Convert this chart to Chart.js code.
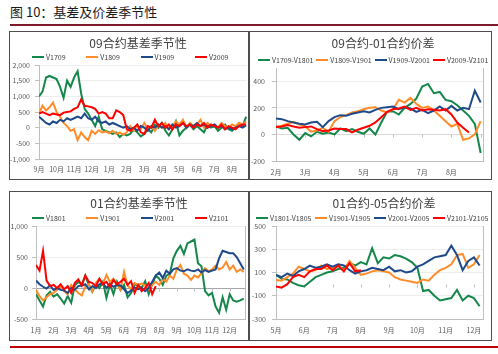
<!DOCTYPE html>
<html>
<head>
<meta charset="utf-8">
<script src="https://cdn.jsdelivr.net/npm/chart.js@4.4.1/dist/chart.umd.min.js"></script>
<style>
  body { margin: 0; width: 498px; height: 354px; position: relative; overflow: hidden; background: #fff; font-family: "Noto Sans CJK SC", sans-serif; }
  #head { position: absolute; left: 10px; top: 3px; font-size: 13px; line-height: 18px; color: #1a1a1a; white-space: nowrap; }
  #rule-top { position: absolute; left: 10px; right: 0; top: 24px; height: 2px; background: #7d1a2c; }
  #rule-bot { position: absolute; left: 10px; right: 0; top: 346px; height: 2px; background: #c00000; }
  .panel { position: absolute; box-sizing: border-box; border: 1px solid #4d4d4d; }
  canvas { position: absolute; }
  .title { position: absolute; width: 200px; text-align: center; font-size: 12px; line-height: 16px; color: #404040; white-space: nowrap; }
  .legend { position: absolute; display: flex; height: 10px; align-items: center; font-size: 7px; color: #404040; white-space: nowrap; }
  .legend .item { display: flex; align-items: center; }
  .legend .swatch { width: 12px; height: 2px; margin-right: 2px; }
</style>
</head>
<body>
<div id="head">图 10：基差及价差季节性</div>
<div id="rule-top"></div>

<div class="panel" style="left:9px;top:31px;width:240px;height:149px"></div>
<div class="panel" style="left:249px;top:31px;width:243px;height:149px"></div>
<div class="panel" style="left:9px;top:191px;width:240px;height:150px"></div>
<div class="panel" style="left:249px;top:191px;width:243px;height:150px"></div>

<canvas id="c1" width="238" height="147" style="left:10px;top:32px"></canvas>
<canvas id="c2" width="245" height="151" style="left:250px;top:32px"></canvas>
<canvas id="c3" width="238" height="149" style="left:10px;top:192px"></canvas>
<canvas id="c4" width="245" height="149" style="left:250px;top:192px"></canvas>

<div class="title" style="left:38px;top:35px">09合约基差季节性</div>
<div class="title" style="left:283px;top:35px">09合约-01合约价差</div>
<div class="title" style="left:39px;top:195px">01合约基差季节性</div>
<div class="title" style="left:284px;top:195px">01合约-05合约价差</div>

<div class="legend" id="lg1" style="left:32px;top:52px"></div>
<div class="legend" id="lg2" style="left:258px;top:55px"></div>
<div class="legend" id="lg3" style="left:32px;top:213px"></div>
<div class="legend" id="lg4" style="left:256px;top:213px"></div>

<div id="rule-bot"></div>

<script>
const FONT = '"Noto Sans CJK SC", sans-serif';
const GREEN = '#15874a', ORANGE = '#ff8c28', BLUE = '#1f4a8a', RED = '#ff0000';

// 09合约基差季节性 (5 points per month, starting 9月)
const months09 = ['9月', '10月', '11月', '12月', '1月', '2月', '3月', '4月', '5月', '6月', '7月', '8月'];
const v1709 = [
  1000, 1150, 1600, 1650, 1600,  1550, 1300, 950, 1500, 1300,
  1600, 1800, 1100, 600, 450,    250, 50, 350, -50, -100,
  -150, -200, -150, -300, -200,  -250, -200, -50, -150, -280,
  -200, -50, -150, 100, 0,       150, -100, -250, -50, 200,
  -250, -100, 0, 100, -50,       50, -50, -150, 100, 0,
  50, -100, 0, 100, -50,         -100, 0, 150, 50, 350
];
const v1809 = [
  450, 700, 550, 650, 800,       500, 350, 150, 50, -100,
  -50, -400, -150, -300, -400,   -100, -200, -80, -150, -120,
  -180, -100, -200, -150, -230,  -150, 50, -100, 100, -50,
  150, -50, 50, -100, 100,       0, 150, -50, 50, 200,
  100, 250, 0, 150, 50,          100, 250, 0, 150, 50,
  100, 0, 150, 50, 0,            100, 50, 150, 100, 200
];
const v1909 = [
  350, 250, 150, 100, 200,       150, 250, 200, 300, 250,
  300, 350, 300, 450, 300,       250, 350, 200, 150, 200,
  100, 150, 100, 50, 0,          50, -50, 0, -100, 50,
  0, -100, 50, 0, 100,           0, 50, -50, 100, 0,
  50, 150, 0, 100, 50,           150, 50, 100, 0, 50,
  100, 0, 50, -50, 0,            -50, 0, 50, 0, 80
];
const v2009 = [
  450, 500, 450, 400, 450,       420, 400, 480, 500, 520,
  600, 650, 900, 700, 680,       650, 600, 450, 500, 450,
  300, 300, 550, 500, 400,       -50, -100, 0, 100, -150,
  -200, 50, 0, 250, 50,          150, 0, 100, -50, 100,
  50, 150, 50, 100, 0,           100, 50, 150, 0, 100,
  50, 0, 100, -50, 50,           0, -50, 50, 100, 100
];

// 09合约-01合约价差 (starting 2月)
const months0901 = ['2月', '3月', '4月', '5月', '6月', '7月', '8月'];
const s1709_1801 = [
  60, 45, 50, 0, -40,  10, -15, 20, 5, 15,  0, 45, 25, 40, 20,  5, 45, 0, 90, 170,
  175, 150, 200, 230, 270,  360, 380, 310, 320, 260,  250, 220, 180, 140, 80,  -140
];
const s1809_1901 = [
  55, 65, 80, 95, 75,  60, 20, 30, 50, 20,  100, 130, 145, 165, 175,  190, 200, 205, 180, 165,
  190, 260, 240, 275, 230,  200, 210, 180, 140, 100,  60, 80, -40, -30, 0,  100
];
const s1909_2001 = [
  120, 115, 100, 90, 80,  75, 90, 95, 55, 100,  130, 145, 140, 155, 165,  175, 165, 185, 200, 205,
  210, 190, 205, 195, 170,  185, 160, 180, 210, 180,  215, 180, 200, 190, 330,  240
];
const s2009_2101 = [
  55, 60, 70, 60, 50,  55, 60, 40, 25, 30,  45, 40, 40, 15, 35,  50, 65, 90, 130, 170,
  190, 195, 210, 185, 200,  180, 190, 185, 180, 190,  150, 90, 50, 15
];

// 01合约基差季节性 (starting 1月)
const months01 = ['1月', '2月', '3月', '4月', '5月', '6月', '7月', '8月', '9月', '10月', '11月', '12月'];
const v1801 = [
  -100, -200, -300, -120, -60,   -140, -100, -170, -250, -130,
  -240, 40, 100, 60, 200,        50, -60, 60, 0, 100,
  -160, 60, -100, 100, -30,      50, -150, -80, 60, 40,
  0, 110, -100, 60, 200,         150, 50, 200, 230, 480,
  600, 680, 550, 720, 750,       780, 400, 350, -50, -120,
  -80, -300, -400, -150, -350,   -100, -200, -220, -200, -170
];
const v1901 = [
  -30, -130, -200, -150, -100,   -80, -30, 20, -50, -100,
  50, -20, -80, -120, 20,        60, -50, 80, 150, 60,
  210, 100, 150, 50, -30,        260, 40, -20, 80, 50,
  70, 40, -20, 50, 100,          50, 150, 100, 200, 150,
  300, 370, 230, 200, 130,       200, 170, 240, 320, 270,
  300, 360, 300, 330, 420,       300, 360, 260, 300, 260
];
const v2001 = [
  120, 60, 20, -10, 40,          -30, 0, -30, -40, -80,
  0, -30, 30, 40, 60,            -20, 30, 0, 60, 80,
  0, 60, 20, 50, 40,             -20, -80, -40, 10, -20,
  0, -50, 0, 100, 200,           250, 160, 280, 230, 300,
  320, 280, 270, 300, 280,       270, 300, 250, 290, 260,
  280, 300, 480, 600, 580,       560, 560, 500, 400, 300
];
const v2101 = [
  370, 280, 600, 120, 30,        50, 0, 60, -20, 30,
  -80, 80, 140, 40, 200,         100, 80, 30, 150, 60,
  100, 20, 130, 60, 100,         150, 50, 110, -80, 50,
  -50, 0, 80, -100, 30
];

// 01合约-05合约价差 (starting 5月)
const months0105 = ['5月', '6月', '7月', '8月', '9月', '10月', '11月', '12月'];
const s1801_1805 = [
  80, 45, 40, 10, -10,  -20, 20, 60, 80, 100,  110, 130, 140, 180, 160,  190, 170, 310, 180, 230,
  220, 250, 240, 220, 190,  140, -60, -50, -100, -140,  -130, -120, -50, -140, -100,  -120, -190
];
const s1901_1905 = [
  35, 30, 60, 90, 150,  130, 110, 120, 160, 130,  140, 160, 120, 200, 140,  80, 90, 110, 120, 110,
  100, 60, 40, 30, 20,  10, 40, 30, 80, 120,  140, 170, 250, 260, 140,  170, 250
];
const s2001_2005 = [
  80, 60, 90, 70, 110,  130, 160, 140, 150, 170,  150, 170, 160, 120, 90,  110, 120, 140, 130, 120,
  150, 110, 120, 100, 110,  150, 170, 200, 230, 240,  250, 330, 250, 120, 200,  230, 160
];
const s2101_2105 = [
  -20, -30, 0, 60, 80,  60, 110, 130, 130, 160,  120, 160, 110, 180, 110,  120
];

const STEP = 0.2; // one value every fifth of a month

// right-hand plot border and small tick marks on the zero line
const frame = {
  id: 'frame',
  beforeDatasetsDraw(chart, args, opts) {
    const {ctx, chartArea: a, scales: {x, y}} = chart;
    ctx.save();
    ctx.strokeStyle = '#bfbfbf';
    ctx.lineWidth = 1;
    ctx.beginPath();
    if (opts.right) {
      ctx.moveTo(a.right + 0.5, a.top);
      ctx.lineTo(a.right + 0.5, a.bottom);
    }
    if (opts.zeroTicks) {
      const y0 = Math.round(y.getPixelForValue(0)) + 0.5;
      x.ticks.forEach(t => {
        const px = Math.round(x.getPixelForValue(t.value)) + 0.5;
        ctx.moveTo(px, y0);
        ctx.lineTo(px, y0 + 3);
      });
    }
    ctx.stroke();
    ctx.restore();
  }
};

function buildLegend(id, series, itemWidth) {
  const box = document.getElementById(id);
  series.forEach(s => {
    const item = document.createElement('div');
    item.className = 'item';
    item.style.width = itemWidth + 'px';
    item.innerHTML = `<span class="swatch" style="background:${s.color}"></span><span>${s.name}</span>`;
    box.appendChild(item);
  });
}

function seasonChart(id, cfg) {
  const n = cfg.series.length;
  return new Chart(document.getElementById(id), {
    type: 'line',
    data: {
      datasets: cfg.series.map((s, i) => ({
        label: s.name,
        data: s.values.map((v, j) => ({x: j * STEP, y: v})),
        borderColor: s.color,
        backgroundColor: s.color,
        borderWidth: 2,
        pointRadius: 0,
        tension: 0,
        order: n - i
      }))
    },
    options: {
      responsive: false,
      animation: false,
      events: [],
      layout: {padding: cfg.padding},
      plugins: {
        legend: {display: false},
        tooltip: {enabled: false},
        title: {display: false},
        frame: cfg.frame
      },
      scales: {
        x: {
          type: 'linear',
          min: 0,
          max: cfg.xMax,
          grid: {display: false, drawTicks: false},
          border: {color: '#bfbfbf'},
          ticks: {
            stepSize: 1,
            includeBounds: false,
            autoSkip: false,
            maxRotation: 0,
            padding: cfg.xPad,
            color: '#595959',
            font: {family: FONT, size: 7},
            callback: v => cfg.months[v] ?? ''
          }
        },
        y: {
          min: cfg.yMin,
          max: cfg.yMax,
          afterFit: s => { s.width = cfg.yWidth; },
          grid: {
            color: c => (c.tick && c.tick.value === 0 ? cfg.zeroColor : '#ededed'),
            tickLength: 4,
            tickColor: '#bfbfbf'
          },
          border: {color: '#bfbfbf'},
          ticks: {
            stepSize: cfg.yStep,
            includeBounds: false,
            padding: cfg.yPad,
            color: '#595959',
            font: {family: FONT, size: 7},
            callback: v => v.toLocaleString('en-US')
          }
        }
      }
    },
    plugins: [frame]
  });
}

const series1 = [
  {name: 'V1709', values: v1709, color: GREEN},
  {name: 'V1809', values: v1809, color: ORANGE},
  {name: 'V1909', values: v1909, color: BLUE},
  {name: 'V2009', values: v2009, color: RED}
];
const series2 = [
  {name: 'V1709-V1801', values: s1709_1801, color: GREEN},
  {name: 'V1809-V1901', values: s1809_1901, color: ORANGE},
  {name: 'V1909-V2001', values: s1909_2001, color: BLUE},
  {name: 'V2009-V2101', values: s2009_2101, color: RED}
];
const series3 = [
  {name: 'V1801', values: v1801, color: GREEN},
  {name: 'V1901', values: v1901, color: ORANGE},
  {name: 'V2001', values: v2001, color: BLUE},
  {name: 'V2101', values: v2101, color: RED}
];
const series4 = [
  {name: 'V1801-V1805', values: s1801_1805, color: GREEN},
  {name: 'V1901-V1905', values: s1901_1905, color: ORANGE},
  {name: 'V2001-V2005', values: s2001_2005, color: BLUE},
  {name: 'V2101-V2105', values: s2101_2105, color: RED}
];

seasonChart('c1', {
  series: series1, months: months09, xMax: 11.85,
  yMin: -1000, yMax: 2000, yStep: 500, yWidth: 29, yPad: 5, xPad: 5.8,
  padding: {left: 0, right: 1, top: 33, bottom: 0},
  zeroColor: '#ededed', frame: {right: false, zeroTicks: false}
});
seasonChart('c2', {
  series: series2, months: months0901, xMax: 7.08,
  yMin: -200, yMax: 500, yStep: 200, yWidth: 26, yPad: 7, xPad: 6.8,
  padding: {left: 0, right: 12, top: 36, bottom: 0},
  zeroColor: '#d9d9d9', frame: {right: true, zeroTicks: true}
});
seasonChart('c3', {
  series: series3, months: months01, xMax: 11.87,
  yMin: -500, yMax: 1000, yStep: 500, yWidth: 26, yPad: 4, xPad: 6.8,
  padding: {left: 0, right: 3, top: 34, bottom: 0},
  zeroColor: '#a6a6a6', frame: {right: true, zeroTicks: true}
});
seasonChart('c4', {
  series: series4, months: months0105, xMax: 7.32,
  yMin: -300, yMax: 500, yStep: 200, yWidth: 26, yPad: 6, xPad: 6.8,
  padding: {left: 0, right: 12, top: 34, bottom: 0},
  zeroColor: '#a6a6a6', frame: {right: true, zeroTicks: true}
});

buildLegend('lg1', series1, 54.3);
buildLegend('lg2', series2, 58.3);
buildLegend('lg3', series3, 54.3);
buildLegend('lg4', series4, 59);
</script>
</body>
</html>
